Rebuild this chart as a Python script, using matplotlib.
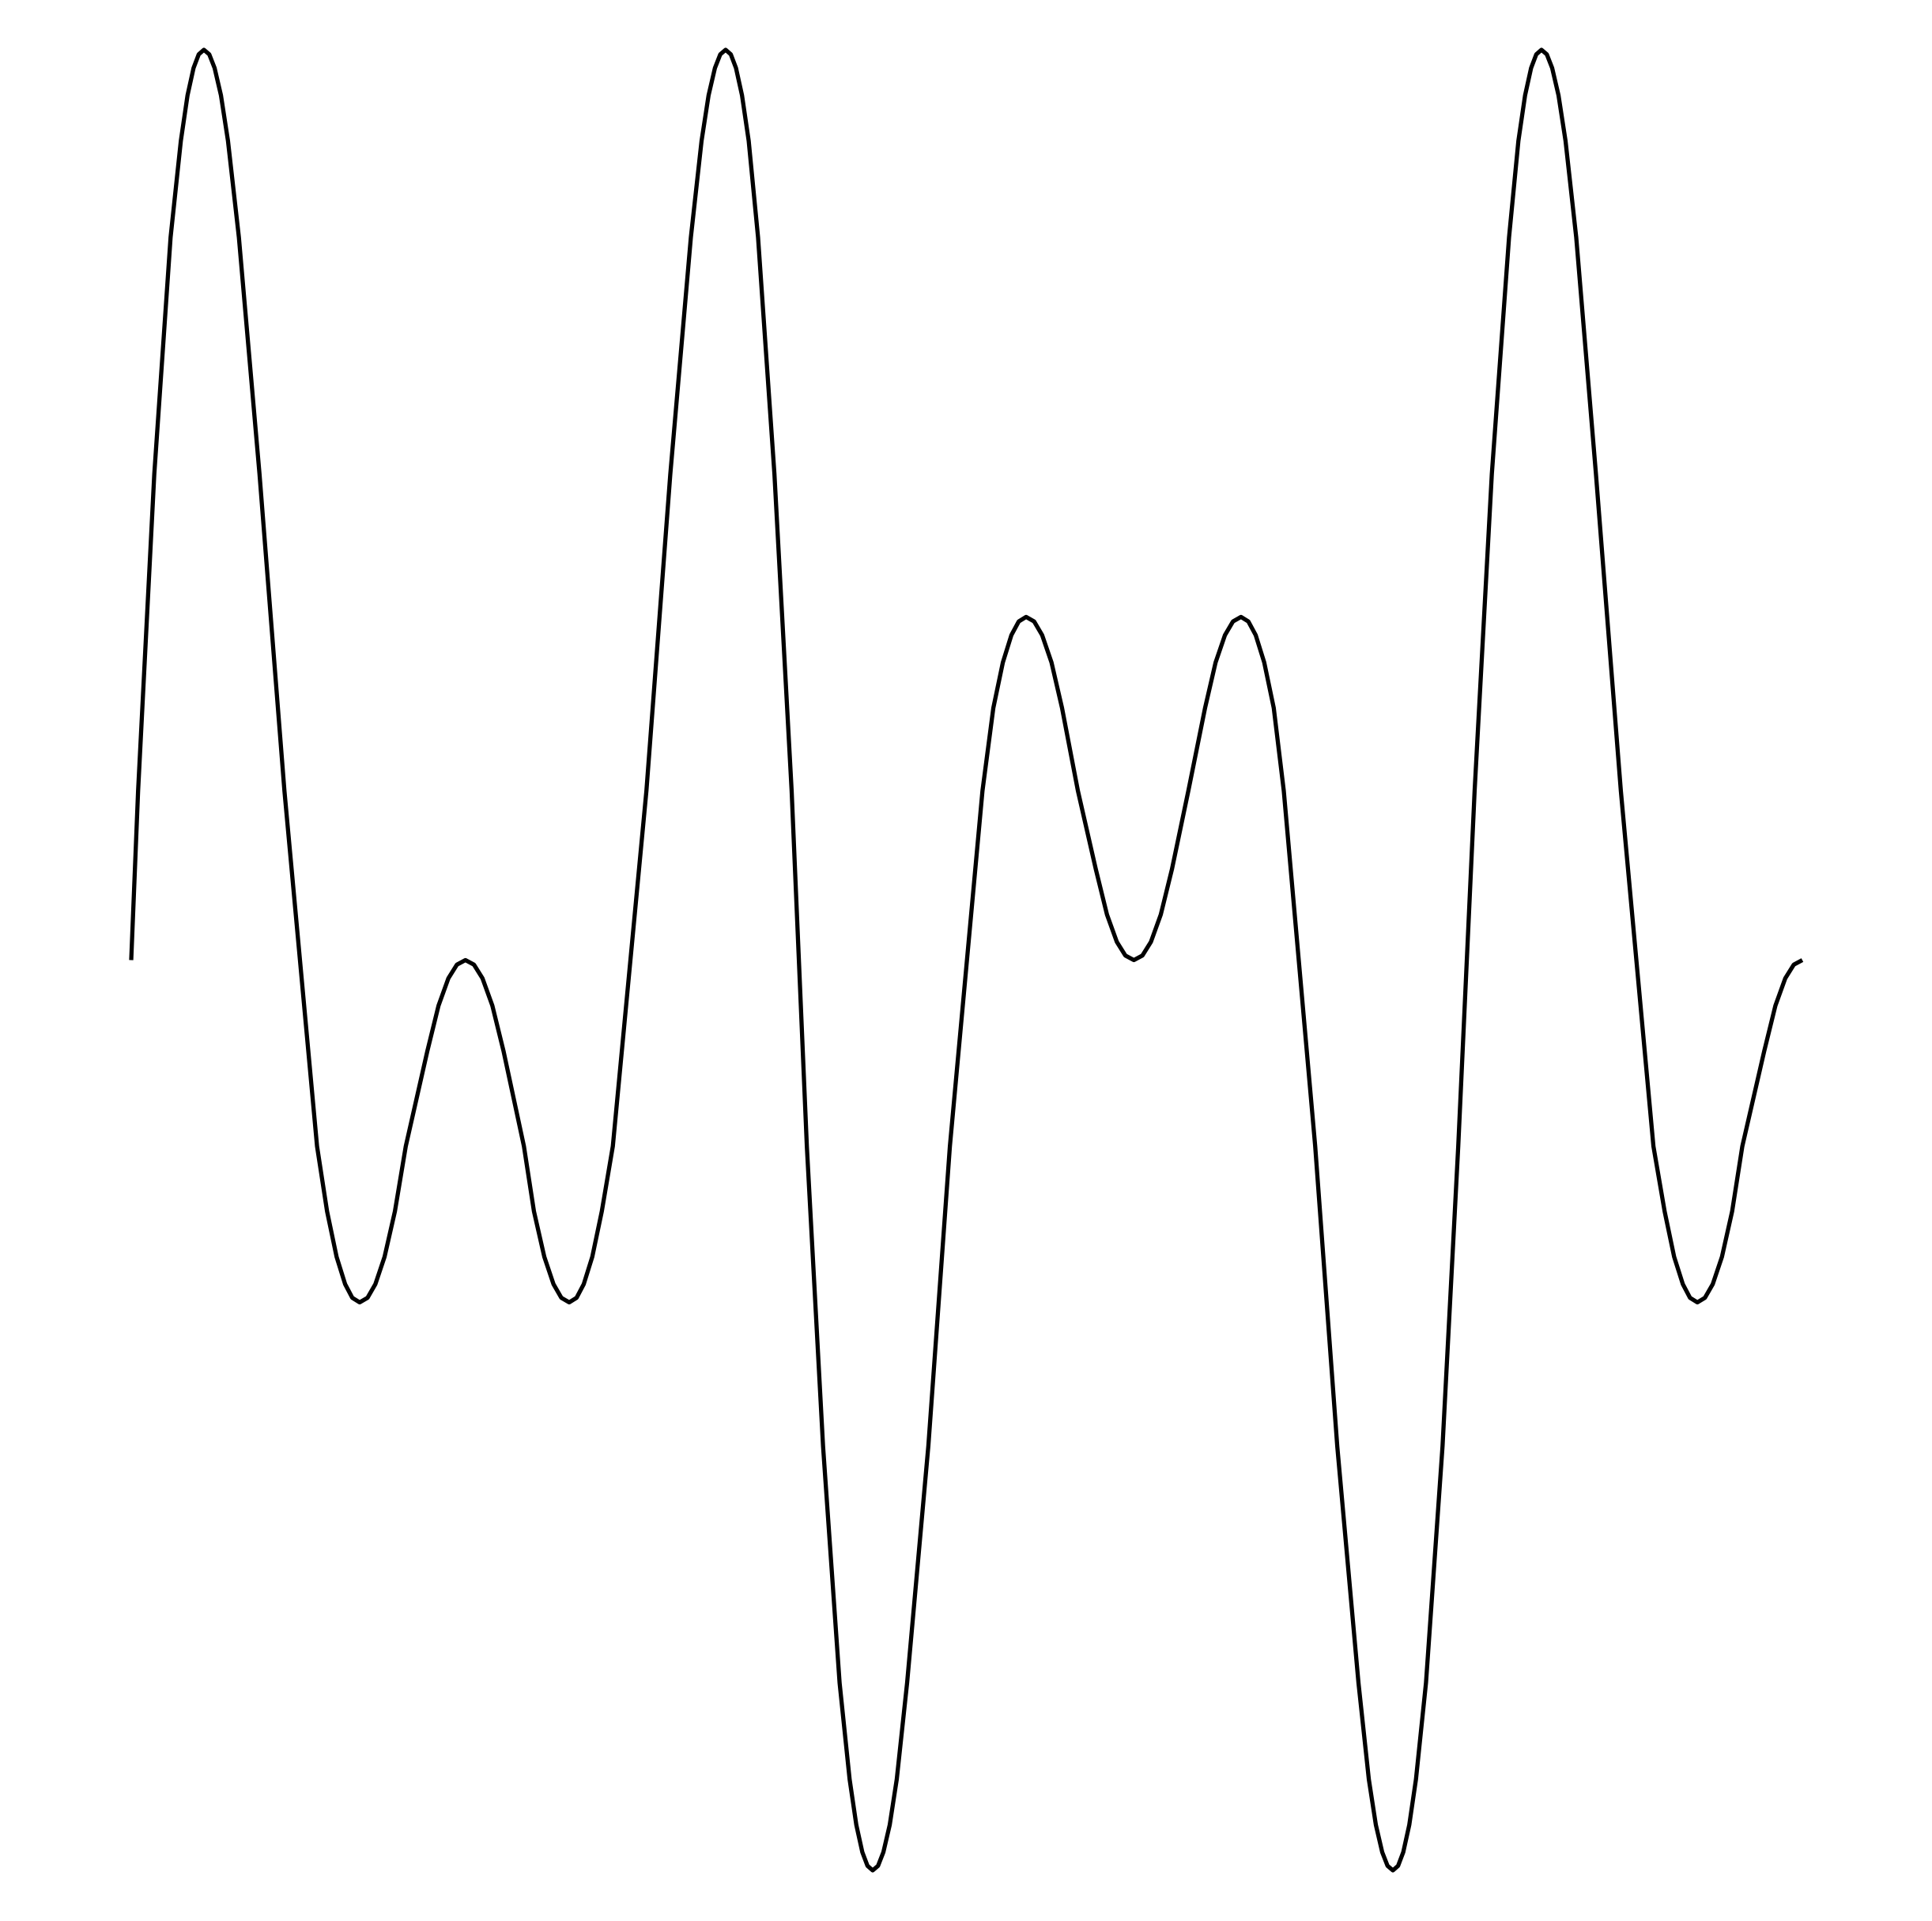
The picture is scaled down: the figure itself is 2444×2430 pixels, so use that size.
import matplotlib.pyplot as plt

# points (x: 0..100 along the trace, y: amplitude -1..1)
wave_x = [0, 0.412, 1.381, 2.356, 2.97, 3.37, 3.73, 4.04, 4.35, 4.67,
          4.99, 5.37, 5.79, 6.443, 7.677, 9.168, 11.12, 11.72, 12.29, 12.80,
          13.23, 13.67, 14.14, 14.61, 15.16, 15.78, 16.43, 17.72, 18.39, 18.98,
          19.49, 20.0, 20.51, 21.02, 21.61, 22.28, 23.50, 24.10, 24.72, 25.27,
          25.74, 26.21, 26.65, 27.08, 27.59, 28.16, 28.82, 30.83, 32.26, 33.49,
          34.13, 34.55, 34.93, 35.25, 35.57, 35.88, 36.19, 36.55, 36.95, 37.51,
          38.49, 39.52, 40.43, 41.40, 42.39, 42.99, 43.39, 43.75, 44.06, 44.37,
          44.69, 45.01, 45.39, 45.81, 46.43, 47.70, 48.99, 50.94, 51.59, 52.16,
          52.67, 53.11, 53.55, 54.03, 54.51, 55.07, 55.7, 56.65, 57.72, 58.39,
          58.98, 59.49, 60.0, 60.51, 61.02, 61.61, 62.28, 63.26, 64.26, 64.89,
          65.45, 65.93, 66.41, 66.85, 67.29, 67.8, 68.37, 68.97, 70.85, 72.17,
          73.44, 74.06, 74.48, 74.86, 75.18, 75.50, 75.81, 76.12, 76.48, 76.88,
          77.48, 78.47, 79.41, 80.39, 81.42, 82.45, 83.01, 83.41, 83.77, 84.08,
          84.39, 84.71, 85.03, 85.41, 85.83, 86.47, 87.65, 89.14, 91.09, 91.76,
          92.33, 92.85, 93.28, 93.72, 94.17, 94.64, 95.19, 95.8, 96.41, 97.72,
          98.39, 98.98, 99.49, 100]
wave_y = [0, 0.186, 0.534, 0.794, 0.9, 0.95, 0.98, 0.995, 1.0, 0.995,
          0.98, 0.95, 0.9, 0.794, 0.534, 0.186, -0.2045, -0.276, -0.326, -0.356,
          -0.371, -0.376, -0.371, -0.356, -0.326, -0.276, -0.2045, -0.1, -0.05, -0.02,
          -0.005, 0, -0.005, -0.02, -0.05, -0.1, -0.2045, -0.276, -0.326, -0.356,
          -0.371, -0.376, -0.371, -0.356, -0.326, -0.276, -0.2045, 0.186, 0.534, 0.794,
          0.9, 0.95, 0.98, 0.995, 1.0, 0.995, 0.98, 0.95, 0.9, 0.794,
          0.534, 0.186, -0.2045, -0.534, -0.794, -0.9, -0.95, -0.98, -0.995, -1.0,
          -0.995, -0.98, -0.95, -0.9, -0.794, -0.534, -0.2045, 0.186, 0.277, 0.327,
          0.357, 0.372, 0.377, 0.372, 0.357, 0.327, 0.277, 0.186, 0.1, 0.05,
          0.02, 0.005, 0, 0.005, 0.02, 0.05, 0.1, 0.186, 0.277, 0.327,
          0.357, 0.372, 0.377, 0.372, 0.357, 0.327, 0.277, 0.186, -0.2045, -0.534,
          -0.794, -0.9, -0.95, -0.98, -0.995, -1.0, -0.995, -0.98, -0.95, -0.9,
          -0.794, -0.534, -0.2045, 0.186, 0.534, 0.794, 0.9, 0.95, 0.98, 0.995,
          1.0, 0.995, 0.98, 0.95, 0.9, 0.794, 0.534, 0.186, -0.2045, -0.276,
          -0.326, -0.356, -0.371, -0.376, -0.371, -0.356, -0.326, -0.276, -0.2045, -0.1,
          -0.05, -0.02, -0.005, 0]

fig = plt.figure(figsize=(24.44, 24.30), dpi=100)
ax = fig.add_axes([0, 0, 1, 1])
ax.plot(wave_x, wave_y, color='black', linewidth=3.8,
        solid_capstyle='butt', solid_joinstyle='round')
ax.set_xlim(-7.852, 107.76)
ax.set_ylim(-1.0556, 1.0547)
ax.set_axis_off()

plt.savefig('out.png', dpi=100)
plt.close()
